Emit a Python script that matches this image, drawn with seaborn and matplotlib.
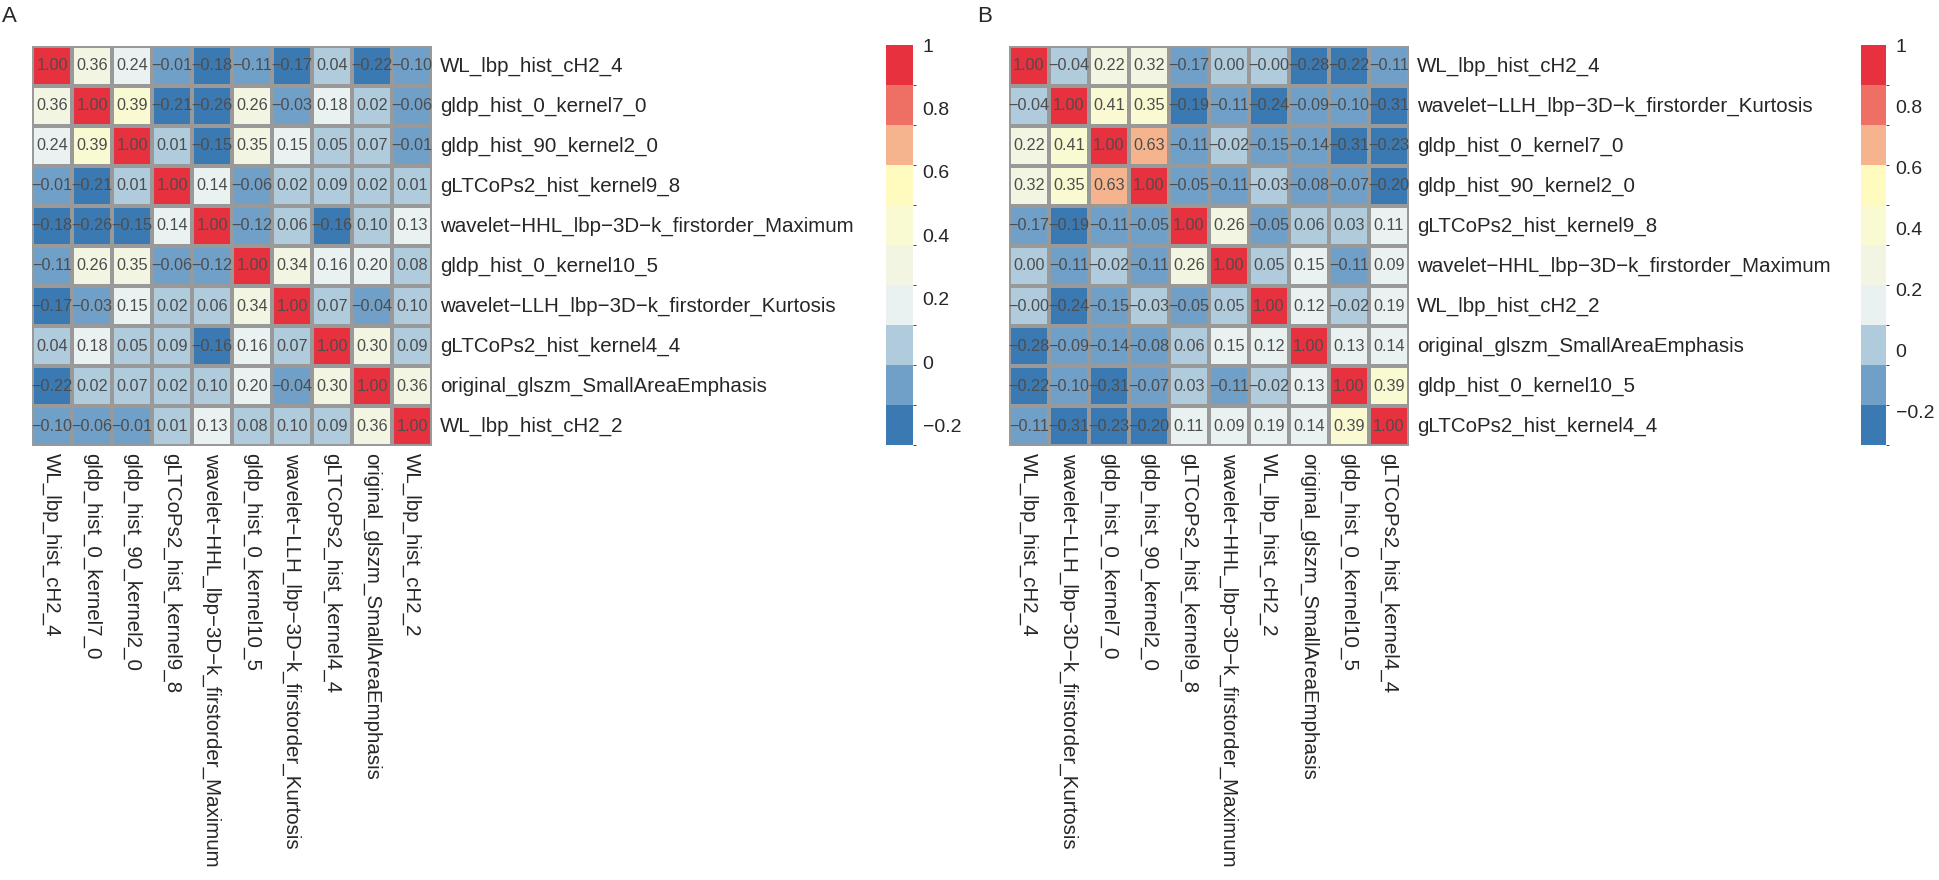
import numpy as np
import pandas as pd
import matplotlib
matplotlib.use("Agg")
import matplotlib.pyplot as plt
from matplotlib.colors import ListedColormap, BoundaryNorm
import seaborn as sns

sns.set_style("white")
plt.rcParams['font.family'] = ['Liberation Sans', 'DejaVu Sans']

# feature names, panel A
labels_a = ["WL_lbp_hist_cH2_4",
            "gldp_hist_0_kernel7_0",
            "gldp_hist_90_kernel2_0",
            "gLTCoPs2_hist_kernel9_8",
            "wavelet\u2212HHL_lbp\u22123D\u2212k_firstorder_Maximum",
            "gldp_hist_0_kernel10_5",
            "wavelet\u2212LLH_lbp\u22123D\u2212k_firstorder_Kurtosis",
            "gLTCoPs2_hist_kernel4_4",
            "original_glszm_SmallAreaEmphasis",
            "WL_lbp_hist_cH2_2"]

corr_a = [[1.00, 0.36, 0.24, -0.01, -0.18, -0.11, -0.17, 0.04, -0.22, -0.10],
          [0.36, 1.00, 0.39, -0.21, -0.26, 0.26, -0.03, 0.18, 0.02, -0.06],
          [0.24, 0.39, 1.00, 0.01, -0.15, 0.35, 0.15, 0.05, 0.07, -0.01],
          [-0.01, -0.21, 0.01, 1.00, 0.14, -0.06, 0.02, 0.09, 0.02, 0.01],
          [-0.18, -0.26, -0.15, 0.14, 1.00, -0.12, 0.06, -0.16, 0.10, 0.13],
          [-0.11, 0.26, 0.35, -0.06, -0.12, 1.00, 0.34, 0.16, 0.20, 0.08],
          [-0.17, -0.03, 0.15, 0.02, 0.06, 0.34, 1.00, 0.07, -0.04, 0.10],
          [0.04, 0.18, 0.05, 0.09, -0.16, 0.16, 0.07, 1.00, 0.30, 0.09],
          [-0.22, 0.02, 0.07, 0.02, 0.10, 0.20, -0.04, 0.30, 1.00, 0.36],
          [-0.10, -0.06, -0.01, 0.01, 0.13, 0.08, 0.10, 0.09, 0.36, 1.00]]

# feature names, panel B
labels_b = ["WL_lbp_hist_cH2_4",
            "wavelet\u2212LLH_lbp\u22123D\u2212k_firstorder_Kurtosis",
            "gldp_hist_0_kernel7_0",
            "gldp_hist_90_kernel2_0",
            "gLTCoPs2_hist_kernel9_8",
            "wavelet\u2212HHL_lbp\u22123D\u2212k_firstorder_Maximum",
            "WL_lbp_hist_cH2_2",
            "original_glszm_SmallAreaEmphasis",
            "gldp_hist_0_kernel10_5",
            "gLTCoPs2_hist_kernel4_4"]

corr_b = [[1.00, -0.04, 0.22, 0.32, -0.17, 0.00, -0.00, -0.28, -0.22, -0.11],
          [-0.04, 1.00, 0.41, 0.35, -0.19, -0.11, -0.24, -0.09, -0.10, -0.31],
          [0.22, 0.41, 1.00, 0.63, -0.11, -0.02, -0.15, -0.14, -0.31, -0.23],
          [0.32, 0.35, 0.63, 1.00, -0.05, -0.11, -0.03, -0.08, -0.07, -0.20],
          [-0.17, -0.19, -0.11, -0.05, 1.00, 0.26, -0.05, 0.06, 0.03, 0.11],
          [0.00, -0.11, -0.02, -0.11, 0.26, 1.00, 0.05, 0.15, -0.11, 0.09],
          [-0.00, -0.24, -0.15, -0.03, -0.05, 0.05, 1.00, 0.12, -0.02, 0.19],
          [-0.28, -0.09, -0.14, -0.08, 0.06, 0.15, 0.12, 1.00, 0.13, 0.14],
          [-0.22, -0.10, -0.31, -0.07, 0.03, -0.11, -0.02, 0.13, 1.00, 0.39],
          [-0.11, -0.31, -0.23, -0.20, 0.11, 0.09, 0.19, 0.14, 0.39, 1.00]]

legend_ticks = [-0.2, 0, 0.2, 0.4, 0.6, 0.8, 1]
legend_labels = ["\u22120.2", "0", "0.2", "0.4", "0.6", "0.8", "1"]

# 10 colour bins, blue -> red
colors = ["#3b79b2", "#70a0c8", "#afcbdc", "#e9f2f0", "#f1f5e1",
          "#f9f9d2", "#fffbbe", "#f6b48e", "#ee6f63", "#e7313f"]
cmap = ListedColormap(colors)

fig = plt.figure(figsize=(19.39, 8.8), dpi=100)
W, H = 1939.0, 880.0


def panel(vals, labels, hm_px, cb_px):
    df = pd.DataFrame(np.array(vals), index=labels, columns=labels)
    # pheatmap style: 10 equal bins from data min to data max
    breaks = np.linspace(df.values.min(), df.values.max(), 11)
    norm = BoundaryNorm(breaks, 10)
    annot = df.map(lambda v: f"{v:.2f}".replace("-", "\u2212"))

    x0, y0, x1, y1 = hm_px
    ax = fig.add_axes([x0 / W, 1 - y1 / H, (x1 - x0) / W, (y1 - y0) / H])
    c0, c1 = cb_px
    cax = fig.add_axes([c0 / W, 1 - 445 / H, (c1 - c0) / W, 400 / H])

    sns.heatmap(df, ax=ax, cbar_ax=cax, cmap=cmap, norm=norm,
                annot=annot, fmt="", linewidths=1.5, linecolor="#999999",
                annot_kws={"size": 11.7, "color": "#4d4d4d"},
                xticklabels=True, yticklabels=True)
    ax.set_xlabel("")
    ax.set_ylabel("")
    ax.yaxis.tick_right()
    ax.set_yticklabels(labels, rotation=0, fontsize=14.8, ha="left", va="center")
    ax.set_xticklabels(labels, rotation=270, fontsize=14.8, ha="center", va="top")
    ax.tick_params(axis="both", length=0)
    ax.tick_params(axis="y", pad=6)
    ax.tick_params(axis="x", pad=5)

    cb = ax.collections[0].colorbar
    cb.outline.set_visible(False)
    cb.set_ticks(legend_ticks)
    cb.set_ticklabels(legend_labels)
    cb.ax.tick_params(length=0, labelsize=14, pad=7)
    return ax


panel(corr_a, labels_a, (32, 46, 432, 446), (886, 913))
panel(corr_b, labels_b, (1009, 46, 1409, 446), (1861, 1886))

fig.text(2 / W, 1 - 6 / H, "A", fontsize=16, ha="left", va="top")
fig.text(977 / W, 1 - 6 / H, "B", fontsize=16, ha="left", va="top")

fig.savefig("out.png", dpi=100, facecolor="white")
